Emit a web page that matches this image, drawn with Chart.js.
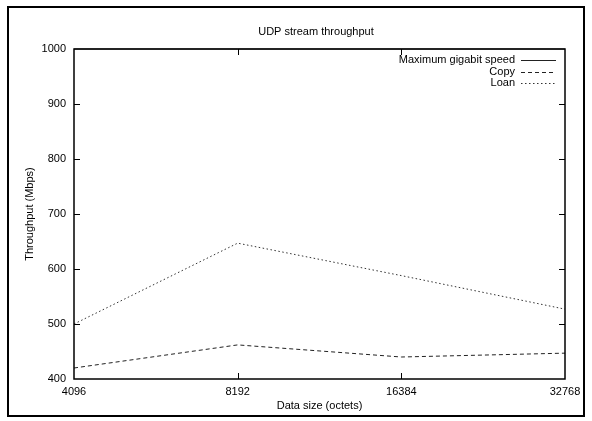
<!DOCTYPE html>
<html>
<head>
<meta charset="utf-8">
<script src="https://cdn.jsdelivr.net/npm/chart.js@4.4.0/dist/chart.umd.min.js"></script>
<style>
  html, body { margin: 0; padding: 0; background: #fff; }
  #wrap { width: 592px; height: 421px; position: relative; }
</style>
</head>
<body>
<div id="wrap"><canvas id="chart" width="592" height="421"></canvas></div>
<script>
// data
const sizes = ["4096", "8192", "16384", "32768"];
const maxSpeed = [1000, 1000, 1000, 1000];
const copyMbps = [420, 462, 440, 447];
const loanMbps = [500, 647, 588, 527];
const yTicks = [400, 500, 600, 700, 800, 900, 1000];

const FONT = "'Liberation Sans', Arial, sans-serif";
const INK = "#000";

/* frame, inward ticks, title, legend (gnuplot look) */
const gnuplotBits = {
    id: "gnuplotBits",
    beforeDraw(chart) {
        const ctx = chart.ctx;
        ctx.save();
        ctx.fillStyle = "#fff";
        ctx.fillRect(0, 0, chart.width, chart.height);
        ctx.strokeStyle = INK;
        ctx.lineWidth = 2;
        ctx.strokeRect(8, 7, 576, 409);
        ctx.restore();
    },
    afterDatasetsDraw(chart) {
        const ctx = chart.ctx;
        const a = chart.chartArea;
        const x = chart.scales.x;
        const y = chart.scales.y;
        ctx.save();
        ctx.strokeStyle = INK;
        ctx.lineWidth = 1.5;
        ctx.strokeRect(a.left, a.top, a.right - a.left, a.bottom - a.top);

        // inward ticks
        ctx.lineWidth = 1;
        ctx.beginPath();
        yTicks.slice(1, -1).forEach(v => {
            const py = Math.round(y.getPixelForValue(v)) + 0.5;
            ctx.moveTo(a.left, py); ctx.lineTo(a.left + 6, py);
            ctx.moveTo(a.right, py); ctx.lineTo(a.right - 6, py);
        });
        for (let i = 1; i < sizes.length - 1; i++) {
            const px = Math.round(x.getPixelForValue(i)) + 0.5;
            ctx.moveTo(px, a.bottom); ctx.lineTo(px, a.bottom - 6);
            ctx.moveTo(px, a.top); ctx.lineTo(px, a.top + 6);
        }
        ctx.stroke();

        // title
        ctx.fillStyle = INK;
        ctx.font = "11px " + FONT;
        ctx.textAlign = "center";
        ctx.textBaseline = "middle";
        ctx.fillText("UDP stream throughput", 316, 32);

        // legend
        ctx.textAlign = "right";
        chart.data.datasets.forEach((ds, i) => {
            const ly = 60 + i * 11.5;
            ctx.fillText(ds.label, 515, ly);
            ctx.beginPath();
            ctx.setLineDash(ds.borderDash || []);
            ctx.lineWidth = 1;
            ctx.strokeStyle = ds.borderColor;
            ctx.moveTo(521, Math.round(ly) + 0.5);
            ctx.lineTo(556, Math.round(ly) + 0.5);
            ctx.stroke();
        });
        ctx.restore();
    }
};

new Chart(document.getElementById("chart"), {
    type: "line",
    data: {
        labels: sizes,
        datasets: [
            { label: "Maximum gigabit speed", data: maxSpeed, borderColor: "#222", borderWidth: 1, pointRadius: 0, clip: false },
            { label: "Copy", data: copyMbps, borderColor: "#222", borderWidth: 1, borderDash: [4, 3], pointRadius: 0 },
            { label: "Loan", data: loanMbps, borderColor: "#333", borderWidth: 1, borderDash: [1.5, 2.5], pointRadius: 0 }
        ]
    },
    options: {
        responsive: false,
        animation: false,
        events: [],
        layout: { padding: { top: 49, right: 27, left: 0, bottom: 0 } },
        plugins: {
            legend: { display: false },
            title: { display: false },
            tooltip: { enabled: false }
        },
        scales: {
            x: {
                type: "category",
                offset: false,
                grid: { display: false, drawTicks: false },
                border: { display: false },
                ticks: { color: INK, font: { family: FONT, size: 11 }, padding: 6, maxRotation: 0, autoSkip: false },
                title: { display: true, text: "Data size (octets)", color: INK, font: { family: FONT, size: 11 }, padding: { top: 0, bottom: 8 } },
                afterFit(scale) { scale.height = 42; }
            },
            y: {
                min: 400,
                max: 1000,
                afterBuildTicks(scale) { scale.ticks = yTicks.map(v => ({ value: v })); },
                grid: { display: false, drawTicks: false },
                border: { display: false },
                ticks: { color: INK, font: { family: FONT, size: 11 }, padding: 8, callback: v => String(v) },
                title: { display: true, text: "Throughput (Mbps)", color: INK, font: { family: FONT, size: 11 }, padding: { top: 23, bottom: 0 } },
                afterFit(scale) { scale.width = 74; }
            }
        }
    },
    plugins: [gnuplotBits]
});
</script>
</body>
</html>
